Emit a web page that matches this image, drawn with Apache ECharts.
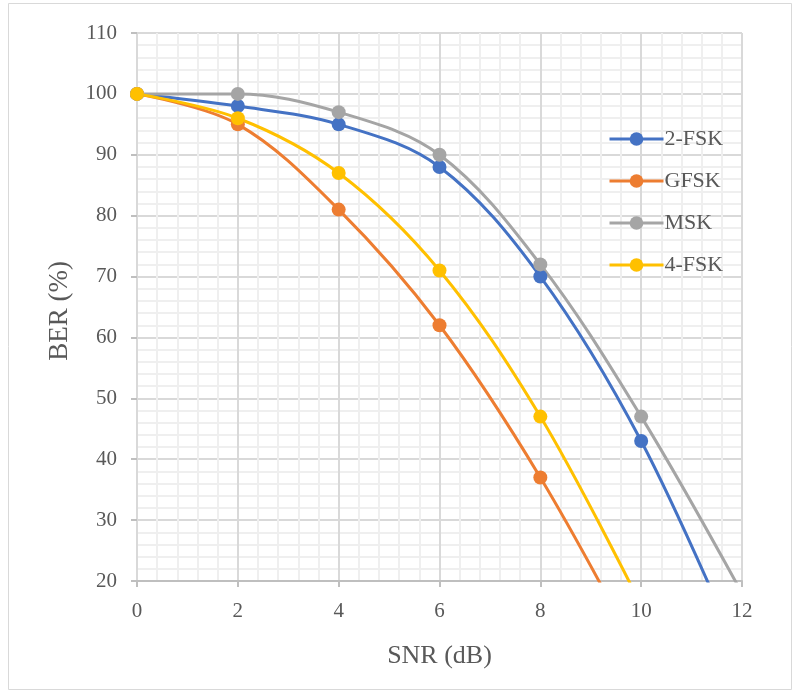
<!DOCTYPE html>
<html>
<head>
<meta charset="utf-8">
<script src="https://cdn.jsdelivr.net/npm/echarts@6/dist/echarts.min.js"></script>
<style>
  html, body { margin: 0; padding: 0; background: #ffffff; }
  #chart { width: 799px; height: 694px; }
</style>
</head>
<body>
<div id="chart"></div>
<script>
// SNR sample points (dB)
const snr = [0, 2, 4, 6, 8, 10, 12];

// BER (%) per modulation scheme; values below the axis floor are clipped
const fsk2 = [100, 98, 95, 88, 70, 43, 7];
const gfsk = [100, 95, 81, 62, 37, 7];
const msk  = [100, 100, 97, 90, 72, 47, 18];
const fsk4 = [100, 96, 87, 71, 47, 16];

const seriesNames = ['2-FSK', 'GFSK', 'MSK', '4-FSK'];
const seriesColors = ['#4472C4', '#ED7D31', '#A5A5A5', '#FFC000'];
const seriesValues = [fsk2, gfsk, msk, fsk4];

const FONT = '"Liberation Serif", "Times New Roman", serif';
const TEXT = '#595959';

const chart = echarts.init(document.getElementById('chart'), null, { renderer: 'canvas' });

const series = seriesNames.map((name, i) => ({
  name: name,
  type: 'line',
  smooth: 0.35,
  clip: true,
  symbol: 'circle',
  symbolSize: 14,
  lineStyle: { width: 3, color: seriesColors[i] },
  itemStyle: { color: seriesColors[i] },
  data: seriesValues[i].map((v, k) => [snr[k], v])
}));

chart.setOption({
  backgroundColor: '#ffffff',
  animation: false,
  graphic: [{
    type: 'rect',
    shape: { x: 8.5, y: 3.5, width: 783, height: 686 },
    style: { fill: 'none', stroke: '#d9d9d9', lineWidth: 1 },
    silent: true
  }],
  grid: { left: 137, right: 57, top: 33, bottom: 113 },
  legend: {
    orient: 'vertical',
    left: 603,
    top: 123,
    itemWidth: 54,
    itemHeight: 17,
    itemGap: 20,
    lineStyle: { width: 3 },
    textStyle: { fontFamily: FONT, fontSize: 22, lineHeight: 20, color: TEXT, padding: [0, 0, 0, -4] },
    data: seriesNames
  },
  xAxis: {
    type: 'value',
    min: 0, max: 12, interval: 2,
    name: 'SNR (dB)',
    nameLocation: 'middle',
    nameGap: 62,
    nameTextStyle: { fontFamily: FONT, fontSize: 26, color: TEXT },
    axisLine: { show: true, lineStyle: { color: '#bfbfbf', width: 2 } },
    axisTick: { show: true, length: 6, lineStyle: { color: '#bfbfbf', width: 2 } },
    axisLabel: { fontFamily: FONT, fontSize: 21, color: TEXT, margin: 20 },
    splitLine: { show: true, lineStyle: { color: '#d9d9d9', width: 2 } },
    minorTick: { show: false, splitNumber: 5 },
    minorSplitLine: { show: true, lineStyle: { color: '#efefef', width: 2 } }
  },
  yAxis: {
    type: 'value',
    min: 20, max: 110, interval: 10,
    name: 'BER (%)',
    nameLocation: 'middle',
    nameGap: 64,
    nameTextStyle: { fontFamily: FONT, fontSize: 27, color: TEXT, padding: [0, 0, 0, -8] },
    axisLine: { show: true, lineStyle: { color: '#d9d9d9', width: 2 } },
    axisTick: { show: true, length: 6, lineStyle: { color: '#bfbfbf', width: 2 } },
    axisLabel: { fontFamily: FONT, fontSize: 21, color: TEXT, margin: 20 },
    splitLine: { show: true, lineStyle: { color: '#d9d9d9', width: 2 } },
    minorTick: { show: false, splitNumber: 5 },
    minorSplitLine: { show: true, lineStyle: { color: '#efefef', width: 2 } }
  },
  series: series
});
</script>
</body>
</html>
